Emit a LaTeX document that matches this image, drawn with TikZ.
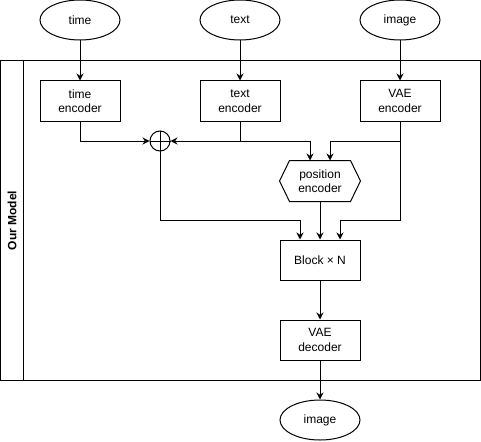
\documentclass[tikz,border=0pt]{standalone}
\usepackage{fontspec}
\setmainfont{Liberation Sans}
\usetikzlibrary{shapes.geometric,arrows.meta}

\begin{document}
\begin{tikzpicture}[x=1pt,y=-1pt,line width=1pt,
  font=\fontsize{12}{14.5}\selectfont,
  io/.style={draw,ellipse,minimum width=80pt,minimum height=40pt,inner sep=0pt},
  box/.style={draw,minimum width=80pt,minimum height=40pt,inner sep=0pt,align=center},
  arr/.style={-{Stealth[length=7pt,width=7pt]}}]
\useasboundingbox (0,0) rectangle (481,441);
% frame
\draw (0.5,61) rectangle (480.5,380.5);
\draw (23,61) -- (23,380.5);
\node[rotate=90,font=\fontsize{12}{14}\selectfont\bfseries] (frame) at (12,220.5) {Our Model};
% inputs
\node[io] (time) at (80,20) {time};
\node[io] (text) at (240,20) {text};
\node[io] (img) at (400,20) {image};
\node[box] (timeenc) at (80,101) {time\\encoder};
\node[box] (textenc) at (240,101) {text\\encoder};
\node[box] (vaeenc) at (400,101) {VAE\\encoder};
\node[circle,draw,minimum size=20pt,inner sep=0pt] (sum) at (160,141) {};
\draw (sum.north) -- (sum.south);
\draw (sum.west) -- (sum.east);
\node[minimum width=80pt,minimum height=40pt,inner sep=0pt,align=center] (pos) at (320,181) {position\\encoder};
\draw (pos.west) -- ([xshift=10pt]pos.north west) -- ([xshift=-10pt]pos.north east)
  -- (pos.east) -- ([xshift=-10pt]pos.south east) -- ([xshift=10pt]pos.south west) -- cycle;
\node[box] (blk) at (320,260) {Block × N};
\node[box] (vaedec) at (320,340) {VAE\\decoder};
\node[io] (out) at (320,420) {image};
% connectors
\draw[arr] (time) -- (timeenc);
\draw[arr] (text) -- (textenc);
\draw[arr] (img) -- (vaeenc);
\draw[arr] (timeenc.south) |- (sum.west);
\draw[arr] (textenc.south) |- (sum.east);
\draw[arr] (textenc.south) -- ++(0,20) -| ([xshift=-10pt]pos.north);
\draw[arr] (vaeenc.south) -- ++(0,20) -| ([xshift=10pt]pos.north);
\draw[arr] (sum.south) -- ++(0,69) -| ([xshift=-20pt]blk.north);
\draw[arr] (pos.south) -- (blk.north);
\draw[arr] (vaeenc.south) -- ++(0,99) -| ([xshift=20pt]blk.north);
\draw[arr] (blk) -- (vaedec);
\draw[arr] (vaedec) -- (out);
\end{tikzpicture}
\end{document}
